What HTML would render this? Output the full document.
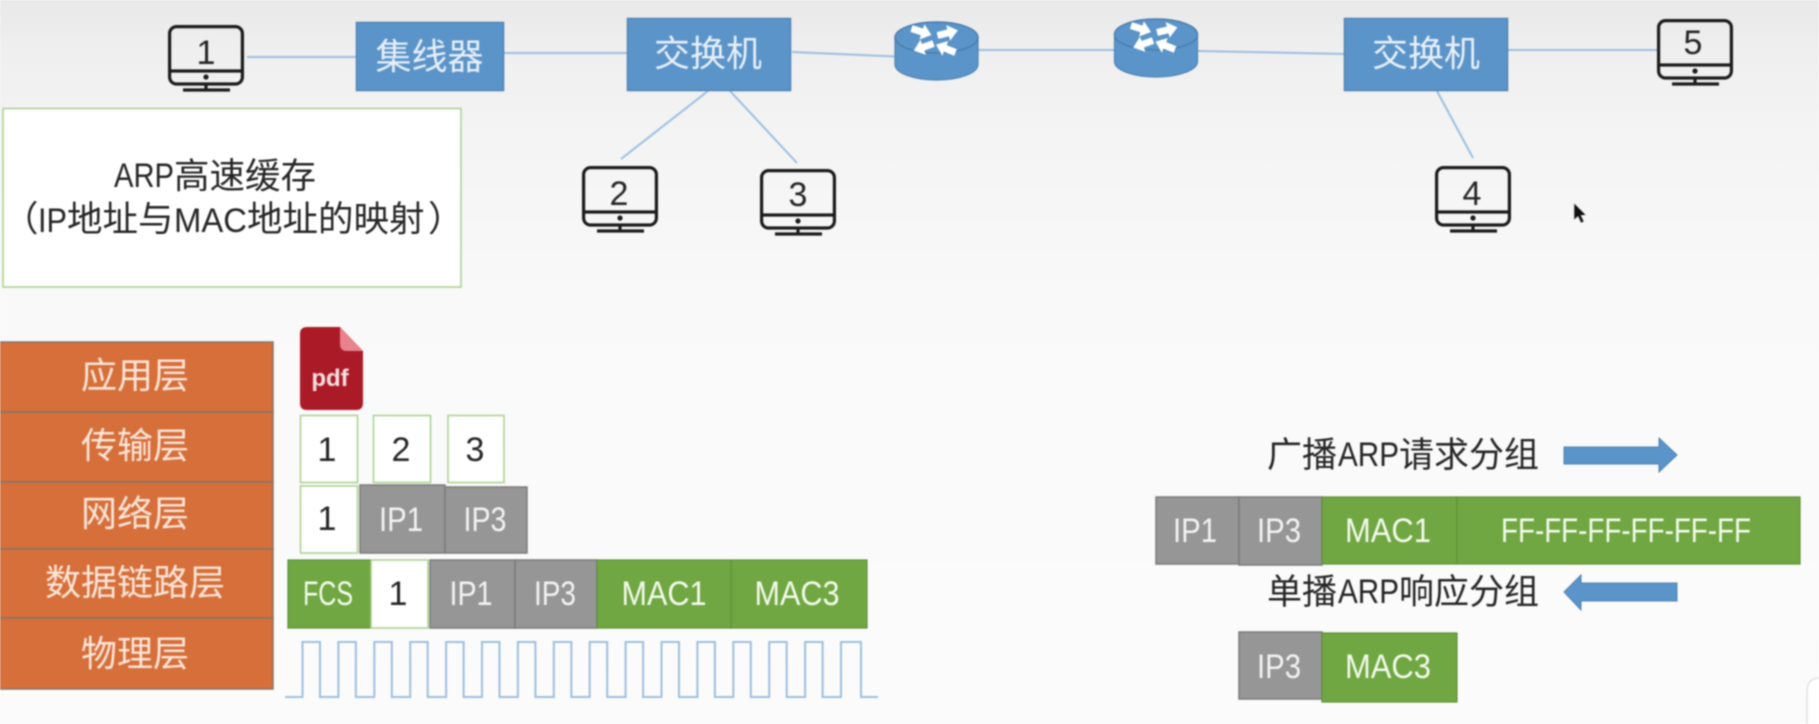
<!DOCTYPE html>
<html lang="zh">
<head>
<meta charset="utf-8">
<title>ARP diagram</title>
<style>
html,body{margin:0;padding:0;width:1819px;height:724px;overflow:hidden;background:#fbfbfb}
svg{display:block;position:absolute;left:0;top:0;filter:blur(.7px)}
text{font-family:"Liberation Sans","Noto Sans CJK SC",sans-serif}
.c{font-size:36px;text-anchor:middle}
.l{font-size:34px;text-anchor:middle}
.k{fill:#262626}
.bt{fill:#e6eff8}
.ot{fill:#fbe5d8}
.gt{fill:#f2f2f2}
.gr{fill:#f3faec}
.line{stroke:#9dbfdf;stroke-width:2;fill:none}
.white{fill:#fff;stroke:#a8cf8d;stroke-width:1.5}
.blue{fill:#5b94c9;stroke:#4e83b5;stroke-width:1.5}
.orange{fill:#d66f3a;stroke:#857469;stroke-width:1.5}
.gray{fill:#969696;stroke:#7b7b7b;stroke-width:1.5}
.green{fill:#70a742;stroke:#5f8f38;stroke-width:1.2}
</style>
</head>
<body>
<svg xmlns="http://www.w3.org/2000/svg" width="1819" height="724" viewBox="0 0 1819 724">
<defs>
<linearGradient id="bg" x1="0" y1="0" x2="0" y2="1">
<stop offset="0" stop-color="#e8e8e8"/>
<stop offset=".06" stop-color="#eeeeee"/>
<stop offset=".17" stop-color="#f3f3f3"/>
<stop offset=".42" stop-color="#f9f9f9"/>
<stop offset="1" stop-color="#fbfbfb"/>
</linearGradient>
<g id="mon" fill="none" stroke="#1c1c1c" stroke-width="3.2">
<rect x="1.6" y="1.6" width="72.8" height="57.4" rx="7"/>
<path d="M2 46H74M38 60V64M15 65H62"/>
<circle cx="38" cy="52" r="2.6" fill="#1c1c1c" stroke="none"/>
</g>
<polygon id="ra" points="0,-3.5 11,-3.5 11,-8 21,0 11,8 11,3.5 0,3.5" fill="#fff"/>
<g id="router">
<path d="M-41.5 0V27A41.5 15.5 0 0 0 41.5 27V0Z" fill="#5b94c9" stroke="#4e83b5" stroke-width="1.2"/>
<ellipse cx="0" cy="0" rx="41.5" ry="15.5" fill="#5b94c9" stroke="#4a7cab" stroke-width="1.4"/>
<use href="#ra" transform="translate(-25,-9) rotate(18)"/>
<use href="#ra" transform="translate(1,-2) rotate(-14)"/>
<use href="#ra" transform="translate(-3,6) rotate(160)"/>
<use href="#ra" transform="translate(19,15) rotate(202)"/>
</g>
</defs>

<rect width="1819" height="724" fill="url(#bg)"/>

<!-- connectors -->
<path class="line" d="M247 57H356M503 53H627M792 52L895 56.5M978 50H1114M1198 51L1344 54M1508 50H1657"/>
<path class="line" stroke-width="1.6" d="M708 91L621 159M730 91L797 163M1437 91L1473 158"/>

<!-- monitors -->
<use href="#mon" transform="translate(168,25)"/>
<use href="#mon" transform="translate(582,166)"/>
<use href="#mon" transform="translate(760,169)"/>
<use href="#mon" transform="translate(1435,166)"/>
<use href="#mon" transform="translate(1657,19)"/>
<text class="l k" x="206" y="64">1</text>
<text class="l k" x="619" y="205">2</text>
<text class="l k" x="798" y="206">3</text>
<text class="l k" x="1472" y="205">4</text>
<text class="l k" x="1693" y="54">5</text>

<!-- hub / switches -->
<rect class="blue" x="356.5" y="22.5" width="147" height="68"/>
<text class="c bt" x="429.5" y="69">集线器</text>
<rect class="blue" x="627.5" y="18.5" width="163" height="72"/>
<text class="c bt" x="708" y="66">交换机</text>
<rect class="blue" x="1344.5" y="18.5" width="163" height="72"/>
<text class="c bt" x="1426" y="66">交换机</text>

<!-- routers -->
<use href="#router" transform="translate(936.5,37.5)"/>
<use href="#router" transform="translate(1156,34.5)"/>

<!-- cursor -->
<path d="M1574 203L1574 220L1578 216.5L1581 223L1584 221.5L1581 215.5L1586 215Z" fill="#111" stroke="#ddd" stroke-width=".6"/>

<!-- ARP cache box -->
<rect class="white" x="3" y="108.5" width="458" height="178.5"/>
<text class="k" font-size="35.5"><tspan x="114" y="187" font-size="34" textLength="60" lengthAdjust="spacingAndGlyphs">ARP</tspan><tspan x="174" y="188">高速缓存</tspan></text>
<text class="k" font-size="35.5"><tspan x="3" y="231">（</tspan><tspan x="38" y="232" font-size="34" textLength="29" lengthAdjust="spacingAndGlyphs">IP</tspan><tspan x="67" y="231">地址与</tspan><tspan x="174" y="232" font-size="34" textLength="73" lengthAdjust="spacingAndGlyphs">MAC</tspan><tspan x="247" y="231">地址的映射</tspan><tspan x="428" y="231">）</tspan></text>

<!-- layers -->
<rect class="orange" x="-2" y="342" width="275" height="70"/>
<rect class="orange" x="-2" y="412" width="275" height="70"/>
<rect class="orange" x="-2" y="482" width="275" height="67"/>
<rect class="orange" x="-2" y="549" width="275" height="69"/>
<rect class="orange" x="-2" y="618" width="275" height="71"/>
<text class="c ot" x="135" y="388">应用层</text>
<text class="c ot" x="135" y="458">传输层</text>
<text class="c ot" x="135" y="526">网络层</text>
<text class="c ot" x="135" y="595">数据链路层</text>
<text class="c ot" x="135" y="666">物理层</text>

<!-- pdf icon -->
<path d="M307 327H340L363 351V403Q363 410 356 410H307Q300 410 300 403V334Q300 327 307 327Z" fill="#ab1b27"/>
<path d="M340 327L363 351H347Q340 351 340 344Z" fill="#e8828d"/>
<text x="330" y="386" font-size="24" font-weight="700" fill="#f7dfe2" text-anchor="middle">pdf</text>

<!-- transport -->
<rect class="white" x="300.5" y="415.5" width="57" height="67"/>
<rect class="white" x="373.5" y="415.5" width="57" height="67"/>
<rect class="white" x="448" y="415.5" width="56" height="67"/>
<text class="l k" x="327" y="461">1</text>
<text class="l k" x="401" y="461">2</text>
<text class="l k" x="475" y="461">3</text>

<!-- network -->
<rect class="white" x="300.5" y="486" width="57" height="67"/>
<rect class="gray" x="360" y="485" width="85" height="68"/>
<rect class="gray" x="445" y="487" width="82" height="66"/>
<text class="l k" x="327" y="530">1</text>
<text class="l gt" x="401" y="531" textLength="44" lengthAdjust="spacingAndGlyphs">IP1</text>
<text class="l gt" x="485" y="531" textLength="43" lengthAdjust="spacingAndGlyphs">IP3</text>

<!-- data link -->
<rect class="green" x="288" y="560" width="83" height="68"/>
<rect class="white" x="371" y="560" width="57" height="68"/>
<rect class="gray" x="430" y="560" width="85" height="68"/>
<rect class="gray" x="515" y="560" width="82" height="68"/>
<rect class="green" x="597" y="560" width="134" height="68"/>
<rect class="green" x="731" y="560" width="136" height="68"/>
<text class="l gr" x="328" y="605" textLength="50" lengthAdjust="spacingAndGlyphs">FCS</text>
<text class="l k" x="398" y="605">1</text>
<text class="l gt" x="471" y="605" textLength="43" lengthAdjust="spacingAndGlyphs">IP1</text>
<text class="l gt" x="555" y="605" textLength="42" lengthAdjust="spacingAndGlyphs">IP3</text>
<text class="l gr" x="664" y="605" textLength="85" lengthAdjust="spacingAndGlyphs">MAC1</text>
<text class="l gr" x="797" y="605" textLength="85" lengthAdjust="spacingAndGlyphs">MAC3</text>

<!-- signal -->
<path class="line" d="M285 697H302.5V642H320V697H338.4V642H355.9V697H374.3V642H391.8V697H410.2V642H427.7V697H446.1V642H463.6V697H482V642H499.5V697H517.9V642H535.4V697H553.8V642H571.3V697H589.7V642H607.2V697H625.6V642H643.1V697H661.5V642H679V697H697.4V642H714.9V697H733.3V642H750.8V697H769.2V642H786.7V697H805.1V642H822.6V697H841V642H861V697H878"/>

<!-- ARP request -->
<text class="k" font-size="35"><tspan x="1267" y="467">广播</tspan><tspan x="1338" y="466" font-size="34" textLength="61" lengthAdjust="spacingAndGlyphs">ARP</tspan><tspan x="1399" y="467">请求分组</tspan></text>
<polygon points="1564,447 1659,447 1659,438 1677,455 1659,472 1659,464 1564,464" fill="#5b94c9" stroke="#4e83b5"/>
<rect class="gray" x="1156" y="497" width="83" height="67"/>
<rect class="gray" x="1239" y="497" width="83" height="68"/>
<rect class="green" x="1322" y="497" width="135" height="67"/>
<rect class="green" x="1457" y="497" width="343" height="67"/>
<text class="l gt" x="1195" y="542" textLength="44" lengthAdjust="spacingAndGlyphs">IP1</text>
<text class="l gt" x="1279" y="542" textLength="44" lengthAdjust="spacingAndGlyphs">IP3</text>
<text class="l gr" x="1388" y="542" textLength="86" lengthAdjust="spacingAndGlyphs">MAC1</text>
<text class="l gr" x="1626" y="542" textLength="250" lengthAdjust="spacingAndGlyphs">FF-FF-FF-FF-FF-FF</text>

<!-- ARP reply -->
<text class="k" font-size="35"><tspan x="1267" y="604">单播</tspan><tspan x="1338" y="603" font-size="34" textLength="61" lengthAdjust="spacingAndGlyphs">ARP</tspan><tspan x="1399" y="604">响应分组</tspan></text>
<polygon points="1677,583 1581,583 1581,575 1564,592 1581,610 1581,601 1677,601" fill="#5b94c9" stroke="#4e83b5"/>
<rect class="gray" x="1239" y="632" width="83" height="67"/>
<rect class="green" x="1322" y="633" width="135" height="69"/>
<text class="l gt" x="1279" y="678" textLength="44" lengthAdjust="spacingAndGlyphs">IP3</text>
<text class="l gr" x="1388" y="678" textLength="86" lengthAdjust="spacingAndGlyphs">MAC3</text>

<!-- corner overlay -->
<path d="M1830 678H1820Q1807 678 1807 692V740H1830Z" fill="#fff" stroke="#e2e2e2" stroke-width="1.5"/>
</svg>
</body>
</html>
